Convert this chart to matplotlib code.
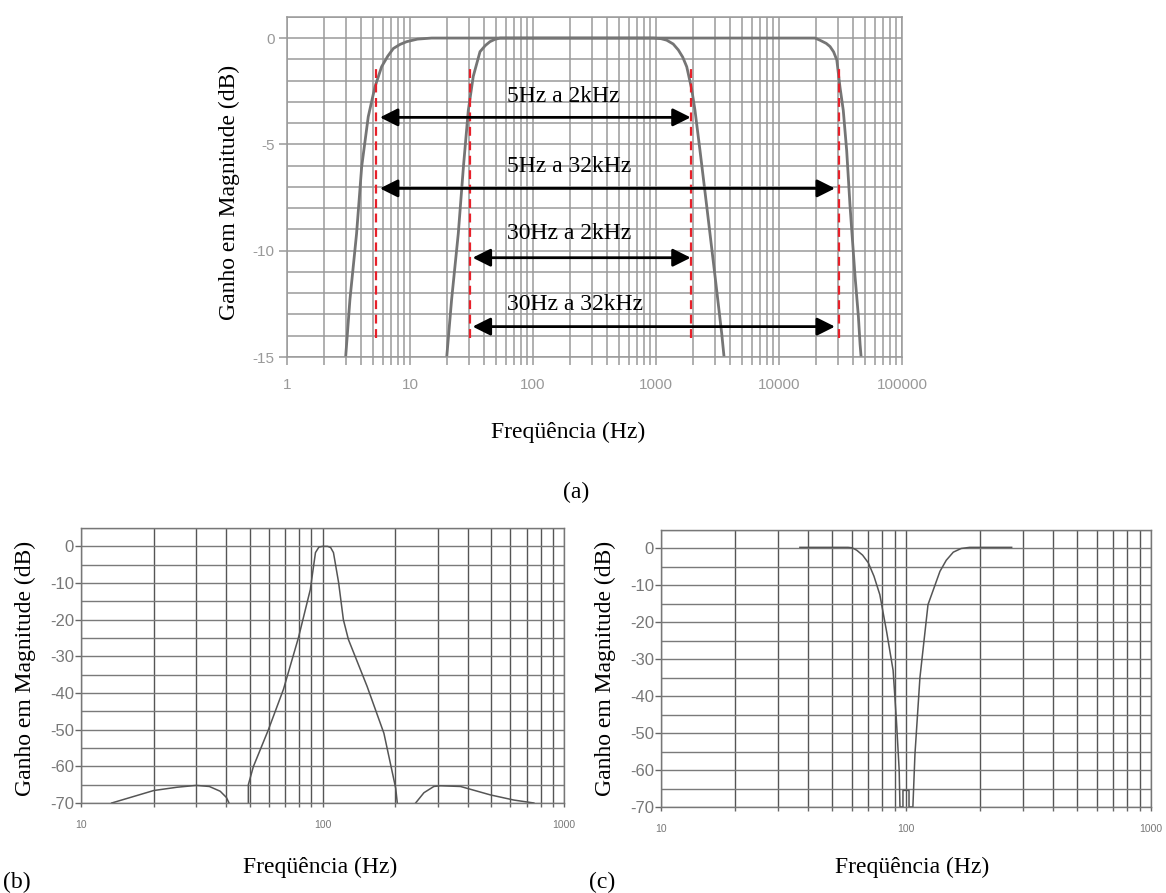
import matplotlib.pyplot as plt
from matplotlib.ticker import MultipleLocator, LogLocator, NullFormatter

# ---- (a) band-pass responses ----
wide_f = [3.0, 3.25, 3.68, 4.05, 4.58, 5.19, 5.88, 6.6, 7.33, 8.3, 9.4, 11.5, 15,
          19600, 21500, 24200, 26000, 27800, 29500, 31300, 33300, 35500, 37800, 41500, 44200, 45600, 46500]
wide_db = [-15, -12.3, -9.2, -6.05, -3.7, -2.3, -1.35, -0.85, -0.49, -0.3, -0.17, -0.05, 0,
           0, -0.1, -0.25, -0.4, -0.65, -1.03, -2.3, -3.4, -5.3, -7.9, -11.2, -13.1, -14.4, -15]
narrow_f = [19.9, 21.8, 24.7, 27.2, 29.8, 32.7, 37.1, 41, 44.7, 49, 54,
            951, 1100, 1222, 1380, 1519, 1650, 1778, 1950, 2075, 2280, 2584, 3020, 3423, 3575]
narrow_db = [-15, -12.3, -9.2, -6.05, -3.4, -1.8, -0.64, -0.35, -0.17, -0.06, 0,
             0, -0.03, -0.1, -0.28, -0.56, -0.9, -1.35, -2.4, -3.4, -5.3, -7.9, -11.2, -13.9, -15]

cut_f = [5.3, 30.7, 1930, 30900]
cut_top, cut_bottom = -1.27, -14.1

arrow_start = [5.7, 5.7, 32.3, 32.3]
arrow_end = [1915, 28500, 1915, 28500]
arrow_db = [-3.73, -7.07, -10.33, -13.57]
arrow_labels = ["5Hz a 2kHz", "5Hz a 32kHz", "30Hz a 2kHz", "30Hz a 32kHz"]
label_db = [-2.77, -6.06, -9.17, -12.55]
label_f = 61.5

top_xticks = [1, 10, 100, 1000, 10000, 100000]
top_yticks = [0, -5, -10, -15]

# ---- (b) band-pass around 100 Hz ----
bp_left_f = [13.4, 20, 25, 30, 34, 37.7, 40, 41]
bp_left_db = [-70, -66.6, -65.7, -65.2, -65.5, -66.8, -68.5, -70]
bp_main_f = [49.3, 49.3, 51.7, 59.7, 68.9, 79.5, 89, 93.5, 96.6, 100, 105, 108,
             111, 116.6, 122, 128, 153, 179.6, 201, 204]
bp_main_db = [-70, -65, -60.1, -50, -39, -24.9, -11.8, -1.7, -0.2, 0, 0, -0.3,
              -1.7, -9.9, -20, -25.4, -38.2, -51, -66, -70]
bp_right_f = [243, 263, 289, 308, 373, 496, 620, 750]
bp_right_db = [-70, -67.2, -65.5, -65.3, -65.5, -67.8, -69.2, -70]

# ---- (c) notch at 100 Hz ----
notch_f = [36.9, 58, 60, 61.5, 63, 66.5, 70.2, 74, 78.2, 83.3, 88.6, 91.4, 93.8, 94.5, 97.2, 97.2,
           102.9, 102.9, 106.7, 108.8, 114, 123, 137.6, 146, 156, 168, 182, 270]
notch_db = [0.3, 0.3, 0.2, -0.1, -0.5, -1.8, -3.9, -7.5, -12.5, -22.4, -33, -46.5, -60, -70, -70, -65.5,
            -65.5, -70, -70, -55.7, -35, -15.2, -6.2, -3.2, -1, 0, 0.3, 0.3]

bottom_xticks = [10, 100, 1000]
bottom_yticks = [0, -10, -20, -30, -40, -50, -60, -70]

serif = "Liberation Serif"
sans = "Liberation Sans"
label_size = 17

fig = plt.figure(figsize=(11.66, 8.93), dpi=100)

# ---------- (a) ----------
ax = fig.add_axes([0.2461, 0.6002, 0.5275, 0.381])
ax.set_xscale("log")
ax.set_xlim(1, 100000)
ax.set_ylim(-15, 1)
ax.plot(wide_f, wide_db, color="#757575", lw=2)
ax.plot(narrow_f, narrow_db, color="#757575", lw=2)
ax.vlines(cut_f, cut_bottom, cut_top, colors="#e8202a", linestyles=(0, (4, 2.5)), lw=1.6)
for x0, x1, y in zip(arrow_start, arrow_end, arrow_db):
    ax.annotate("", xy=(x1, y), xytext=(x0, y),
                arrowprops=dict(arrowstyle="<|-|>,head_length=0.4,head_width=0.2",
                                color="black", lw=2, mutation_scale=27,
                                shrinkA=0, shrinkB=0))
for lab, y in zip(arrow_labels, label_db):
    ax.text(label_f, y, lab, ha="left", va="center", family=serif, fontsize=label_size)

ax.set_xticks(top_xticks, labels=[str(t) for t in top_xticks])
ax.xaxis.set_minor_locator(LogLocator(subs=range(2, 10)))
ax.xaxis.set_minor_formatter(NullFormatter())
ax.set_yticks(top_yticks, labels=[str(t) for t in top_yticks])
ax.yaxis.set_minor_locator(MultipleLocator(1))
ax.grid(True, which="both", color="#9a9a9a", lw=1.1)
ax.tick_params(axis="both", which="both", colors="#999999", labelsize=11, width=1.1)
ax.tick_params(axis="x", which="both", length=6, pad=9)
ax.tick_params(axis="y", which="major", length=6, pad=3)
ax.tick_params(axis="y", which="minor", length=0)
for lab in ax.get_xticklabels() + ax.get_yticklabels():
    lab.set_family(sans)
for s in ax.spines.values():
    s.set_color("#9a9a9a")
    s.set_linewidth(1.1)

fig.text(0.197, 0.785, "Ganho em Magnitude (dB)", rotation=90, ha="center", va="center",
         family=serif, fontsize=label_size)
fig.text(0.487, 0.516, "Freqüência (Hz)", ha="center", va="center", family=serif, fontsize=label_size)
fig.text(0.494, 0.448, "(a)", ha="center", va="center", family=serif, fontsize=label_size)


def bottom_axes(rect):
    a = fig.add_axes(rect)
    a.set_xscale("log")
    a.set_xlim(10, 1000)
    a.set_ylim(-70, 5)
    a.set_xticks(bottom_xticks, labels=[str(t) for t in bottom_xticks])
    a.xaxis.set_minor_locator(LogLocator(subs=range(2, 10)))
    a.xaxis.set_minor_formatter(NullFormatter())
    a.set_yticks(bottom_yticks, labels=[str(t) for t in bottom_yticks])
    a.yaxis.set_minor_locator(MultipleLocator(5))
    a.xaxis.grid(True, which="both", color="#555555", lw=1.0)
    a.yaxis.grid(True, which="both", color="#7a7a7a", lw=1.0)
    a.tick_params(axis="both", which="both", colors="#666666", width=1.0)
    a.tick_params(axis="x", which="both", length=3, pad=9, labelsize=7.5)
    a.tick_params(axis="y", which="major", length=4, pad=1, labelsize=12)
    a.tick_params(axis="y", which="minor", length=0)
    for lab in a.get_xticklabels() + a.get_yticklabels():
        lab.set_family(sans)
        lab.set_color("#777777")
    for s in a.spines.values():
        s.set_color("#777777")
        s.set_linewidth(1.0)
    return a


# ---------- (b) ----------
axb = bottom_axes([0.0695, 0.1008, 0.4142, 0.3079])
axb.plot(bp_left_f, bp_left_db, color="#555555", lw=1.1)
axb.plot(bp_main_f, bp_main_db, color="#555555", lw=1.1)
axb.plot(bp_right_f, bp_right_db, color="#555555", lw=1.1)
fig.text(0.0214, 0.252, "Ganho em Magnitude (dB)", rotation=90, ha="center", va="center",
         family=serif, fontsize=label_size)
fig.text(0.2744, 0.029, "Freqüência (Hz)", ha="center", va="center", family=serif, fontsize=label_size)
fig.text(0.0146, 0.0123, "(b)", ha="center", va="center", family=serif, fontsize=label_size)

# ---------- (c) ----------
axc = bottom_axes([0.5669, 0.0963, 0.4202, 0.3102])
axc.plot(notch_f, notch_db, color="#555555", lw=1.1)
fig.text(0.519, 0.252, "Ganho em Magnitude (dB)", rotation=90, ha="center", va="center",
         family=serif, fontsize=label_size)
fig.text(0.782, 0.029, "Freqüência (Hz)", ha="center", va="center", family=serif, fontsize=label_size)
fig.text(0.516, 0.0123, "(c)", ha="center", va="center", family=serif, fontsize=label_size)

fig.savefig("out.png", dpi=100)
